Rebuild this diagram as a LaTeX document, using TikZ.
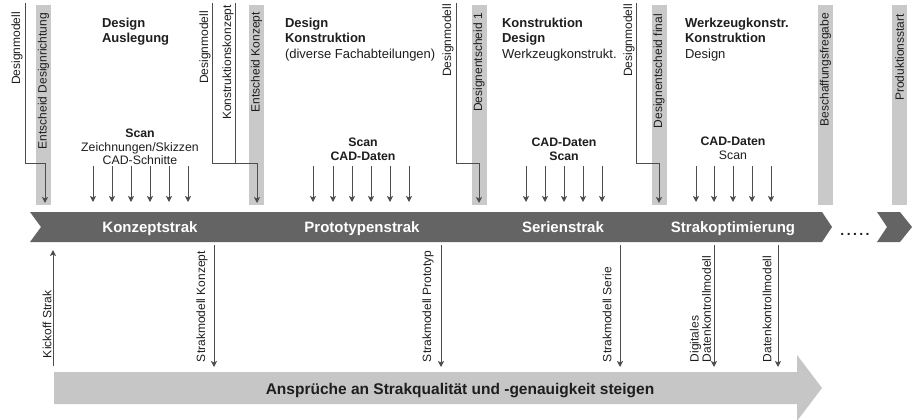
\documentclass[tikz,border=0pt]{standalone}
\usepackage{fontspec}
\setmainfont{Liberation Sans}
\usetikzlibrary{arrows.meta}
\definecolor{ink}{HTML}{1E1E1E}
\definecolor{wire}{HTML}{4D4D4D}
\definecolor{barfill}{HTML}{C9C9C9}
\definecolor{darkbar}{HTML}{646464}
\definecolor{arrowfill}{HTML}{C6C6C6}
\begin{document}
\begin{tikzpicture}[x=1pt,y=-1pt,
  every node/.style={inner sep=0pt, outer sep=0pt, text=ink},
  msbar/.style={fill=barfill, draw=none, minimum width=15pt, minimum height=200pt},
  vlabel/.style={rotate=90, font=\fontsize{12}{11}\selectfont},
  wireline/.style={draw=wire, line width=0.9pt},
  conn/.style={wireline, -{Stealth[length=6pt,width=6pt,inset=1.5pt]}},
  headb/.style={anchor=base west, font=\fontsize{13}{15}\selectfont\bfseries},
  headr/.style={anchor=base west, font=\fontsize{13}{15}\selectfont},
  scanb/.style={anchor=base, font=\fontsize{12.3}{14}\selectfont\bfseries},
  scanr/.style={anchor=base, font=\fontsize{12.3}{14}\selectfont},
  phase/.style={anchor=base, text=white, font=\fontsize{15}{17}\selectfont\bfseries}
]
\useasboundingbox (0,0) rectangle (921,420);
\fill[white] (0,0) rectangle (921,420);

% milestone bars
\node[msbar] (b1) at (43.5,105) {};
\node[msbar] (b2) at (256.5,105) {};
\node[msbar] (b3) at (479,105) {};
\node[msbar] (b4) at (659,105) {};
\node[msbar] (b5) at (825.5,105) {};
\node[msbar] (b6) at (899.5,105) {};
\node[vlabel, anchor=east] (lb1) at (43.5,13) {Entscheid Designrichtung};
\node[vlabel, anchor=east] (lb2) at (256.5,12) {Entscheid Konzept};
\node[vlabel, anchor=east] (lb3) at (479,13) {Designentscheid 1};
\node[vlabel, anchor=east] (lb4) at (659,14) {Designentscheid final};
\node[vlabel, anchor=east] (lb5) at (825.5,13) {Beschaffungsfregabe};
\node[vlabel, anchor=east] (lb6) at (899.5,14) {Produktionsstart};

% design models feeding the decisions
\node[vlabel, anchor=east] (dm1) at (17,12) {Designmodell};
\node[vlabel, anchor=east] (dm2) at (205,11) {Designmodell};
\node[vlabel, anchor=east] (kk2) at (228,5) {Konstruktionskonzept};
\node[vlabel, anchor=east] (dm3) at (448,4) {Designmodell};
\node[vlabel, anchor=east] (dm4) at (629,4) {Designmodell};
\coordinate (dm1t) at (25,3);
\coordinate (dm2t) at (212,3);
\coordinate (kk2t) at (235,3);
\coordinate (dm3t) at (456,3);
\coordinate (dm4t) at (636,3);
\draw[conn] (dm1t) -- ++(0,160) -| ([xshift=1.5pt,yshift=2pt]b1.south);
\draw[conn] (dm2t) -- ++(0,160) -| ([xshift=0.5pt,yshift=2pt]b2.south);
\draw[wireline] (kk2t) -- ++(0,160);
\draw[conn] (dm3t) -- ++(0,160) -| ([yshift=2pt]b3.south);
\draw[conn] (dm4t) -- ++(0,160) -| ([yshift=2pt]b4.south);

% phase headings
\node[headb] (h1a) at (102,28) {Design};
\node[headb] (h1b) at (102,43) {Auslegung};
\node[headb] (h2a) at (285,28) {Design};
\node[headb] (h2b) at (285,43) {Konstruktion};
\node[headr] (h2c) at (285,58.5) {(diverse Fachabteilungen)};
\node[headb] (h3a) at (502,28) {Konstruktion};
\node[headb] (h3b) at (502,43) {Design};
\node[headr] (h3c) at (502,58.5) {Werkzeugkonstrukt.};
\node[headb] (h4a) at (685,28) {Werkzeugkonstr.};
\node[headb] (h4b) at (685,43) {Konstruktion};
\node[headr] (h4c) at (685,58.5) {Design};

% input data per phase
\node[scanb] (s1a) at (140,137) {Scan};
\node[scanr] (s1b) at (140,151) {Zeichnungen/Skizzen};
\node[scanr] (s1c) at (140,164) {CAD-Schnitte};
\node[scanb] (s2a) at (363,146) {Scan};
\node[scanb] (s2b) at (363,160) {CAD-Daten};
\node[scanb] (s3a) at (564,146) {CAD-Daten};
\node[scanb] (s3b) at (564,160) {Scan};
\node[scanb] (s4a) at (733,145) {CAD-Daten};
\node[scanr] (s4b) at (733,159) {Scan};

\foreach \x [count=\i] in {93,112,131,150,169,188,313,333,352,371,390,409,526,545,564,583,602,696,714,733,752,771}{
  \coordinate (in\i t) at (\x,166);
  \coordinate (in\i b) at (\x,202);
  \draw[conn] (in\i t) -- (in\i b);
}

% process bar
\fill[darkbar] (30,212) -- (822,212) -- (832,227) -- (822,242) -- (30,242) -- (41,227) -- cycle;
\fill[darkbar] (877,212) -- (900,212) -- (912,227) -- (900,242) -- (877,242) -- (887,227) -- cycle;
\node[phase] (ph1) at (150,232) {Konzeptstrak};
\node[phase] (ph2) at (362,232) {Prototypenstrak};
\node[phase] (ph3) at (563,232) {Serienstrak};
\node[phase] (ph4) at (733,232) {Strakoptimierung};
\node[anchor=base, font=\fontsize{14}{14}\selectfont\bfseries] (dots) at (855,235) {.\kern2.4pt.\kern2.4pt.\kern2.4pt.\kern2.4pt.};

% strak models below the bar
\coordinate (ko0) at (53,366);
\coordinate (ko1) at (53,250);
\draw[conn] (ko0) -- (ko1);
\node[vlabel, anchor=west] (kol) at (47,358) {Kickoff Strak};
\foreach \x/\n in {214/sm1,441/sm2,620/sm3,714/sm4,778/sm5}{
  \coordinate (\n t) at (\x,245);
  \coordinate (\n b) at (\x,367);
  \draw[conn] (\n t) -- (\n b);
}
\node[vlabel, anchor=west] (sml1) at (202,362) {Strakmodell Konzept};
\node[vlabel, anchor=west] (sml2) at (428,362) {Strakmodell Prototyp};
\node[vlabel, anchor=west] (sml3) at (607,362) {Strakmodell Serie};
\node[vlabel, anchor=west, align=left] (sml4) at (700.5,362) {Digitales\\Datenkontrollmodell};
\node[vlabel, anchor=west] (sml5) at (767,362) {Datenkontrollmodell};

% quality arrow
\fill[arrowfill] (54,372) -- (797,372) -- (797,355) -- (822,388) -- (797,421) -- (797,404) -- (54,404) -- cycle;
\node[anchor=base, font=\fontsize{15.5}{17}\selectfont\bfseries] (claim) at (460,394) {Ansprüche an Strakqualität und -genauigkeit steigen};
\end{tikzpicture}
\end{document}
